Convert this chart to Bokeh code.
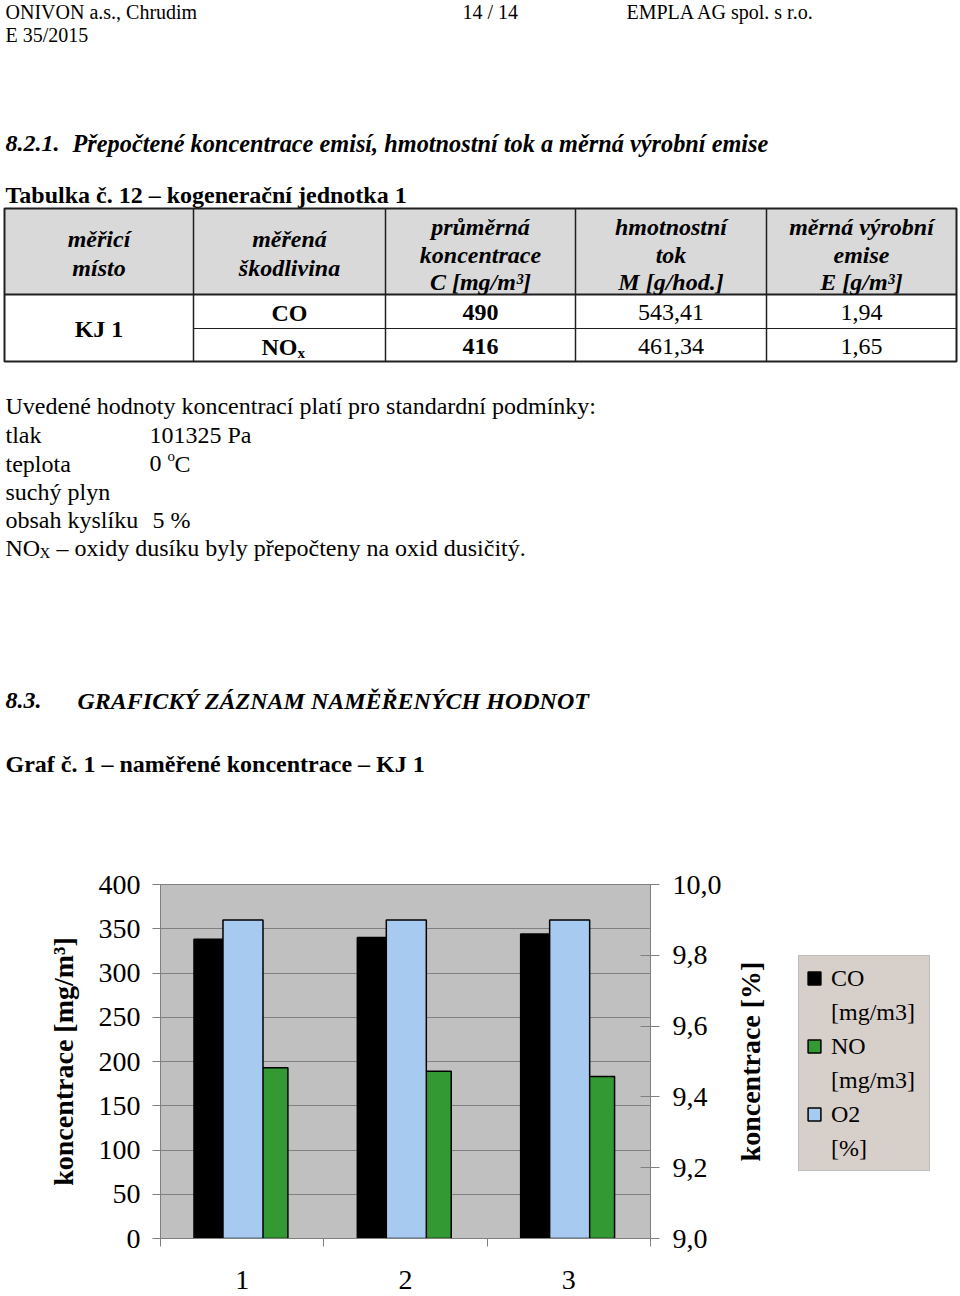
import math
import numpy as np
from bokeh.plotting import figure
from bokeh.models import (Range1d, LinearAxis, FixedTicker, CustomJSTickFormatter,
                          Legend, LegendItem, ColumnDataSource, Grid)
from bokeh.layouts import column, row
from bokeh.transform import dodge
from bokeh.embed import file_html
from bokeh.resources import INLINE
from bokeh.core.properties import value

FONT = "Liberation Serif"
SERIF = value(FONT)

# ---------------- page text ----------------
header_left = ["ONIVON a.s., Chrudim", "E 35/2015"]
header_page = "14 / 14"
header_right = "EMPLA AG spol. s r.o."
section_no = "8.2.1."
section_title = "Přepočtené koncentrace emisí, hmotnostní tok a měrná výrobní emise"
table_caption = "Tabulka č. 12 – kogenerační jednotka 1"

# ---------------- table data ----------------
col_headers = [["měřicí", "místo"],
               ["měřená", "škodlivina"],
               ["průměrná", "koncentrace", "C [mg/m³]"],
               ["hmotnostní", "tok", "M [g/hod.]"],
               ["měrná výrobní", "emise", "E [g/m³]"]]
measuring_point = "KJ 1"
pollutants = ["CO", "NO"]
pollutant_sub = ["", "x"]
avg_conc = ["490", "416"]
mass_flow = ["543,41", "461,34"]
spec_emission = ["1,94", "1,65"]

notes_intro = "Uvedené hodnoty koncentrací platí pro standardní podmínky:"
cond_names = ["tlak", "teplota", "suchý plyn", "obsah kyslíku"]
cond_values = ["101325 Pa", "0", "", "5 %"]
nox_note = "– oxidy dusíku byly přepočteny na oxid dusičitý."
section2_no = "8.3."
section2_title = "GRAFICKÝ ZÁZNAM NAMĚŘENÝCH HODNOT"
graph_caption = "Graf č. 1 – naměřené koncentrace – KJ 1"

# ---------------- chart data ----------------
runs = [1, 2, 3]
co_mg = [338, 340, 344]
no_mg = [193, 189, 183]
o2_pct = [9.9, 9.9, 9.9]
left_ticks = [0, 50, 100, 150, 200, 250, 300, 350, 400]
right_ticks = [9.0, 9.2, 9.4, 9.6, 9.8, 10.0]
run_bounds = [0.5, 1.5, 2.5, 3.5]
o2_axis = (9.0, 10.0)
left_label = "koncentrace [mg/m³]"
right_label = "koncentrace [%]"
legend_rows = [("CO", "[mg/m3]"), ("NO", "[mg/m3]"), ("O2", "[%]")]
colors = {"CO": "black", "NO": "#339933", "O2": "#A6CAF0"}


def no_align(fig):
    try:
        fig.frame_align = False
    except Exception:
        pass


PAGE_W = 958

# ================= document figure =================
DOC_H = 798
doc = figure(width=PAGE_W, height=DOC_H, x_range=Range1d(0, PAGE_W), y_range=Range1d(DOC_H, 0),
             x_axis_type=None, y_axis_type=None, output_backend="svg", toolbar_location=None,
             min_border=0)
no_align(doc)
doc.outline_line_color = None
doc.background_fill_color = "white"
doc.border_fill_color = "white"


def txt(fig, x, y, s, size=24, style="normal", align="left", angle=0.0):
    fig.text(x=[x], y=[y], text=[s], text_font=SERIF, text_font_size=f"{size}px",
             text_font_style=style, text_align=align, text_baseline="middle",
             text_color="black", angle=angle)


txt(doc, 5, 11, header_left[0], 20)
txt(doc, 5, 34, header_left[1], 20)
txt(doc, 462, 11, header_page, 20)
txt(doc, 626, 11, header_right, 20)

txt(doc, 5, 143, section_no, 24, "bold italic")
txt(doc, 72, 143, section_title, 24.3, "bold italic")
txt(doc, 5, 194, table_caption, 24, "bold")

# table frame
col_edges = [4, 193, 385, 575, 766, 956]
row_edges = [208, 294, 328, 361]
doc.quad(left=[col_edges[0]], right=[col_edges[-1]], top=[row_edges[0]], bottom=[row_edges[1]],
         fill_color="#D9D9D9", line_color=None)
doc.segment(x0=col_edges[1:-1], y0=[row_edges[0]] * 4, x1=col_edges[1:-1], y1=[row_edges[-1]] * 4,
            line_color="#202020", line_width=1.5)
doc.segment(x0=[col_edges[0], col_edges[1]], y0=[row_edges[1], row_edges[2]],
            x1=[col_edges[-1], col_edges[-1]], y1=[row_edges[1], row_edges[2]],
            line_color="#202020", line_width=[2, 1.2])
doc.quad(left=[col_edges[0]], right=[col_edges[-1]], top=[row_edges[0]], bottom=[row_edges[-1]],
         fill_color=None, line_color="#202020", line_width=2)

centers = [(col_edges[i] + col_edges[i + 1]) / 2 for i in range(5)]
for i, lines in enumerate(col_headers):
    ys = [238, 267] if len(lines) == 2 else [226, 254, 281]
    for s, y in zip(lines, ys):
        txt(doc, centers[i], y, s, 24, "bold italic", "center")

txt(doc, centers[0], 328, measuring_point, 24, "bold", "center")
body_y = [312, 346]
for k in range(2):
    if pollutant_sub[k]:
        txt(doc, centers[1] + 8, body_y[k], pollutants[k], 24, "bold", "right")
        txt(doc, centers[1] + 8, body_y[k] + 6, pollutant_sub[k], 15, "bold", "left")
    else:
        txt(doc, centers[1], body_y[k], pollutants[k], 24, "bold", "center")
    txt(doc, centers[2], body_y[k], avg_conc[k], 24, "bold", "center")
    txt(doc, centers[3], body_y[k], mass_flow[k], 24, "normal", "center")
    txt(doc, centers[4], body_y[k], spec_emission[k], 24, "normal", "center")

# notes
txt(doc, 5, 405, notes_intro)
cond_y = [434, 463, 491, 519]
cond_x = [149, 149, 149, 152]
for name, val, y, x in zip(cond_names, cond_values, cond_y, cond_x):
    txt(doc, 5, y, name)
    if val:
        txt(doc, x, y, val)
txt(doc, 167, 455, "o", 15)
txt(doc, 174, 463, "C")
txt(doc, 5, 547, "NO")
txt(doc, 39, 552, "X", 15)
txt(doc, 56, 547, nox_note)

txt(doc, 5, 700, section2_no, 24, "bold italic")
txt(doc, 77, 700, section2_title, 24, "bold italic")
txt(doc, 5, 763, graph_caption, 24, "bold")

# ================= chart figure =================
src = ColumnDataSource(dict(run=runs, co=co_mg, no=no_mg, o2=o2_pct))
FL, FW, FH, FT, FR, FB = 160, 490, 354, 86, 78, 56
CH_H = FT + FH + FB
p = figure(frame_width=FW, frame_height=FH, x_range=Range1d(run_bounds[0], run_bounds[-1]),
           y_range=Range1d(left_ticks[0], left_ticks[-1]),
           x_axis_type=None, y_axis_type=None, output_backend="svg", toolbar_location=None,
           min_border_left=FL, min_border_right=FR, min_border_top=FT, min_border_bottom=FB)
no_align(p)
p.extra_y_ranges = {"o2": Range1d(*o2_axis)}
p.background_fill_color = "#C0C0C0"
p.border_fill_color = "white"
p.outline_line_color = "#808080"

p.add_layout(Grid(dimension=1, ticker=FixedTicker(ticks=left_ticks),
                  grid_line_color="#808080", grid_line_width=1))

p.vbar(x=dodge("run", -0.15, range=p.x_range), top="co", width=0.29, source=src,
       fill_color=colors["CO"], line_color="black", line_width=1.5)
p.vbar(x=dodge("run", 0.14, range=p.x_range), top="no", width=0.28, source=src,
       fill_color=colors["NO"], line_color="black", line_width=1.5)
p.vbar(x=dodge("run", 0.005, range=p.x_range), top="o2", bottom=o2_axis[0], width=0.245,
       source=src, y_range_name="o2",
       fill_color=colors["O2"], line_color="black", line_width=1.5)

tick_font = "28px"
xax = LinearAxis(ticker=FixedTicker(ticks=runs, minor_ticks=run_bounds),
                 major_tick_line_color=None, major_tick_out=8, major_tick_in=0,
                 minor_tick_out=8, minor_tick_in=0, minor_tick_line_color="#808080",
                 axis_line_color="#808080", major_label_standoff=24,
                 major_label_text_font=FONT, major_label_text_font_size=tick_font,
                 major_label_text_color="black")
p.add_layout(xax, "below")

yax = LinearAxis(ticker=FixedTicker(ticks=left_ticks), axis_label=left_label,
                 major_tick_out=8, major_tick_in=0, minor_tick_line_color=None,
                 major_tick_line_color="#808080", axis_line_color="#808080",
                 major_label_standoff=12, major_label_text_font=FONT,
                 major_label_text_font_size=tick_font, major_label_text_color="black",
                 axis_label_text_font=FONT, axis_label_text_font_size="28px",
                 axis_label_text_font_style="bold", axis_label_text_color="black",
                 axis_label_standoff=17)
p.add_layout(yax, "left")

rax = LinearAxis(y_range_name="o2", ticker=FixedTicker(ticks=right_ticks),
                 formatter=CustomJSTickFormatter(code="return tick.toFixed(1).replace('.', ',');"),
                 major_tick_out=9, major_tick_in=10, minor_tick_line_color=None,
                 major_tick_line_color="#808080", axis_line_color="#808080",
                 major_label_standoff=13, major_label_text_font=FONT,
                 major_label_text_font_size=tick_font, major_label_text_color="black")
p.add_layout(rax, "right")

# ================= right side: O2 axis title + legend =================
SIDE_W = PAGE_W - (FL + FW + FR)
side = figure(width=SIDE_W, height=CH_H, x_range=Range1d(0, SIDE_W), y_range=Range1d(0, CH_H),
              x_axis_type=None, y_axis_type=None, output_backend="svg", toolbar_location=None,
              min_border=0)
no_align(side)
side.outline_line_color = None
side.background_fill_color = "white"
side.border_fill_color = "white"
# rotated title of the right (O2) axis, centred on the plot frame
txt(side, 750 - (FL + FW + FR), CH_H - (FT + FH / 2), right_label, 28, "bold", "center",
    math.pi / 2)

# legend proxies (one undrawn NaN row each, so that the legend swatch is painted)
proxy = dict(x=np.array([np.nan]), top=np.array([np.nan]))
items = []
blank = side.vbar(x=proxy["x"], top=proxy["top"], width=0.1, fill_alpha=0, line_alpha=0)
for name, unit in legend_rows:
    r = side.vbar(x=proxy["x"], top=proxy["top"], width=0.1, fill_color=colors[name],
                  line_color="black", line_width=1.5)
    items.append(LegendItem(label=name, renderers=[r]))
    items.append(LegendItem(label=unit, renderers=[blank]))
legend = Legend(items=items, location=(798 - (FL + FW + FR), 123), orientation="vertical",
                label_text_font=FONT, label_text_font_size="24px", label_text_color="black",
                label_height=30, label_width=91, glyph_height=16, glyph_width=16,
                label_standoff=9, spacing=4, padding=7, margin=0,
                background_fill_color="#D7D0CA", background_fill_alpha=1.0,
                border_line_color="#A8A8A8", border_line_width=1)
side.add_layout(legend, "center")

layout = column(doc, row(p, side, spacing=0), spacing=0)
open("out.html", "w").write(file_html(layout, INLINE))
